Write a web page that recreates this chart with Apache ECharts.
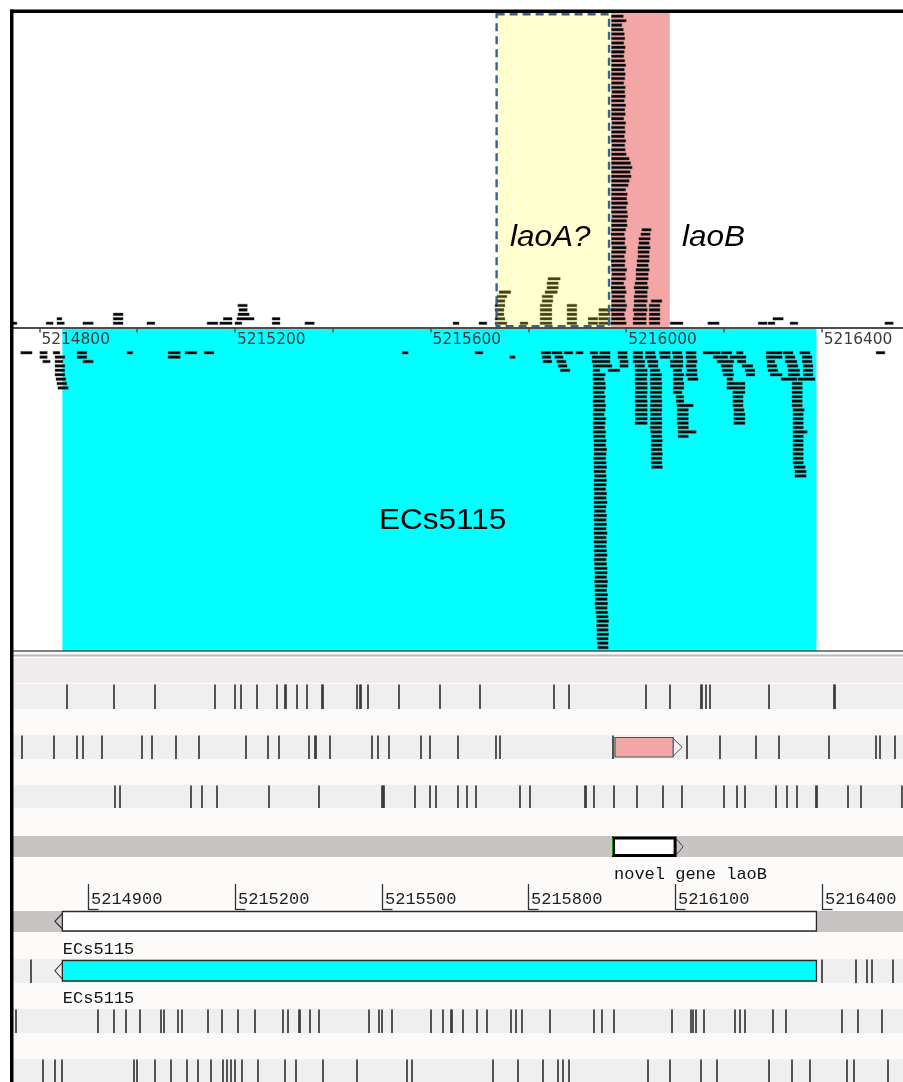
<!DOCTYPE html>
<html><head><meta charset="utf-8">
<script src="https://cdn.jsdelivr.net/npm/echarts@6/dist/echarts.min.js"></script>
<style>html,body{margin:0;padding:0;background:#fff;}#c{width:903px;height:1082px;}</style>
</head><body><div id="c"></div>
<script>
// ---------- DATA ----------
const xMin = 5214744, xMax = 5216566;
const topTickValues = [5214800, 5215000, 5215200, 5215400, 5215600, 5215800, 5216000, 5216200, 5216400];
const topTickLabels = [5214800, 5215200, 5215600, 5216000, 5216400];
const rulerTicks = [5214900, 5215200, 5215500, 5215800, 5216100, 5216400];
const geneECs5115 = [5214847, 5216389];
const regionLaoA = [5215736, 5215969];
const regionLaoB = [5215969, 5216089];
const geneLaoB = [5215974, 5216100];
const geneLaoBTrack = [5215977, 5216096];
const geneLabels = [[5214847, 'ECs5115', 't5'], [5214847, 'ECs5115', 't6'], [5215974, 'novel gene laoB', 't4']];

// plus-strand reads [start, end, row]
const plusReads = [
 [5214728,5214754,1],[5214814,5214828,1],[5214836,5214851,1],[5214836,5214846,2],
 [5214889,5214910,1],[5214951,5214971,1],[5214951,5214971,2],[5214951,5214971,3],
 [5215020,5215036,1],[5215143,5215165,1],[5215169,5215194,1],[5215176,5215194,2],
 [5215200,5215214,1],[5215204,5215239,2],[5215206,5215229,3],[5215208,5215225,4],[5215206,5215225,5],
 [5215276,5215292,1],[5215276,5215292,2],[5215343,5215362,1],[5215646,5215658,1],[5215699,5215715,1],
 // laoA? region
 [5215732,5215756,1],[5215732,5215752,2],[5215734,5215750,3],[5215732,5215750,4],[5215732,5215752,5],[5215734,5215752,6],[5215736,5215756,7],[5215740,5215764,8],
 [5215783,5215799,1],
 [5215824,5215848,1],[5215824,5215848,2],[5215824,5215848,3],[5215824,5215848,4],[5215824,5215848,5],[5215828,5215850,6],[5215828,5215850,7],[5215834,5215859,8],[5215838,5215861,9],[5215838,5215861,10],[5215840,5215865,11],
 [5215879,5215899,1],[5215879,5215899,2],[5215879,5215899,3],[5215879,5215899,4],[5215879,5215899,5],
 [5215922,5215942,1],[5215922,5215942,2],
 [5215944,5215967,1],[5215944,5215967,2],[5215944,5215967,3],[5215944,5215967,4],
 // laoB tall stack
 [5215968,5216000,1],[5215970,5215998,2],[5215970,5215996,3],[5215968,5215999,4],[5215970,5216001,5],[5215970,5215998,6],[5215971,5215997,7],[5215970,5216000,8],[5215969,5215998,9],[5215970,5215995,10],
 [5215970,5215999,11],[5215971,5215998,12],[5215970,5216001,13],[5215970,5215997,14],[5215969,5215998,15],[5215970,5215996,16],[5215970,5215999,17],[5215971,5216000,18],[5215970,5215997,19],[5215970,5215998,20],
 [5215969,5215996,21],[5215970,5215999,22],[5215970,5216002,23],[5215970,5216001,24],[5215971,5216003,25],[5215970,5216002,26],[5215970,5216000,27],[5215970,5216003,28],[5215970,5216001,29],[5215970,5216002,30],
 [5215970,5215999,31],[5215970,5216004,32],[5215970,5216006,33],[5215970,5216010,34],[5215970,5216008,35],[5215970,5216012,36],[5215970,5216009,37],[5215970,5216006,38],[5215970,5216000,39],[5215970,5215998,40],
 [5215971,5215997,41],[5215970,5215999,42],[5215970,5215996,43],[5215970,5215998,44],[5215970,5215997,45],[5215971,5215999,46],[5215970,5215995,47],[5215970,5215998,48],[5215970,5215997,49],[5215970,5215999,50],
 [5215970,5215996,51],[5215970,5215998,52],[5215971,5215997,53],[5215970,5215998,54],[5215970,5215995,55],[5215970,5215997,56],[5215970,5215998,57],[5215970,5215996,58],[5215970,5215999,59],[5215970,5215997,60],
 [5215970,5215995,61],[5215970,5215996,62],[5215970,5215998,63],[5215970,5215995,64],[5215970,5215997,65],[5215970,5215996,66],[5215970,5215994,67],[5215970,5215991,68],[5215970,5216000,69],[5215970,5215994,70],
 [5216014,5216041,1],[5216014,5216041,2],[5216016,5216041,3],[5216014,5216043,4],[5216016,5216041,5],[5216016,5216043,6],[5216016,5216043,7],[5216018,5216043,8],[5216016,5216045,9],[5216018,5216043,10],
 [5216020,5216045,11],[5216020,5216045,12],[5216020,5216047,13],[5216022,5216045,14],[5216022,5216047,15],[5216024,5216047,16],[5216024,5216047,17],[5216024,5216049,18],[5216026,5216047,19],[5216026,5216049,20],
 [5216030,5216049,21],[5216032,5216051,22],
 [5216047,5216069,1],[5216047,5216069,2],[5216047,5216069,3],[5216047,5216069,4],[5216047,5216069,5],[5216051,5216073,6],
 [5216090,5216116,1],[5216167,5216190,1],[5216270,5216288,1],[5216290,5216304,1],[5216300,5216321,2],[5216335,5216351,1],[5216529,5216546,1]
];

// minus-strand reads [start, end, row]
const minusReads = [
 [5214762,5214785,1],[5214801,5214816,1],[5214828,5214842,1],[5214877,5214897,1],[5214979,5214991,1],[5215063,5215088,1],[5215098,5215122,1],[5215137,5215157,1],[5215542,5215554,1],
 [5214801,5214816,2],[5214832,5214852,2],[5214877,5214897,2],[5215063,5215088,2],
 [5214807,5214822,3],[5214832,5214848,3],[5214889,5214910,3],
 [5214832,5214852,4],[5214832,5214852,5],[5214832,5214852,6],[5214834,5214854,7],[5214836,5214856,8],[5214838,5214859,9],
 [5215691,5215707,1],[5215762,5215773,2],
 [5215826,5215846,1],[5215848,5215869,1],[5215873,5215891,1],[5215897,5215912,1],
 [5215828,5215846,2],[5215854,5215871,2],[5215830,5215848,3],[5215858,5215877,3],[5215861,5215879,4],[5215865,5215885,5],
 // tall stack
 [5215926,5215942,1],[5215946,5215967,1],[5215930,5215967,2],[5215930,5215967,3],[5215932,5215971,4],[5215932,5215946,5],[5215963,5215987,5],
 [5215932,5215957,6],[5215932,5215955,7],[5215933,5215957,8],[5215932,5215958,9],[5215932,5215955,10],[5215933,5215957,11],[5215932,5215956,12],[5215932,5215958,13],[5215933,5215957,14],[5215932,5215955,15],
 [5215933,5215958,16],[5215932,5215957,17],[5215933,5215956,18],[5215932,5215958,19],[5215933,5215957,20],[5215934,5215959,21],[5215934,5215958,22],[5215934,5215960,23],[5215934,5215959,24],[5215933,5215958,25],
 [5215934,5215959,26],[5215934,5215960,27],[5215934,5215958,28],[5215935,5215959,29],[5215934,5215960,30],[5215934,5215959,31],[5215934,5215958,32],[5215935,5215960,33],[5215934,5215959,34],[5215934,5215961,35],
 [5215934,5215959,36],[5215935,5215958,37],[5215934,5215960,38],[5215934,5215959,39],[5215935,5215960,40],[5215934,5215959,41],[5215934,5215961,42],[5215935,5215959,43],[5215934,5215960,44],[5215935,5215959,45],
 [5215934,5215960,46],[5215935,5215961,47],[5215934,5215959,48],[5215935,5215960,49],[5215935,5215961,50],[5215936,5215961,51],[5215936,5215960,52],[5215935,5215962,53],[5215936,5215961,54],[5215936,5215960,55],
 [5215936,5215962,56],[5215937,5215961,57],[5215936,5215962,58],[5215937,5215961,59],[5215938,5215962,60],[5215939,5215963,61],[5215940,5215964,62],[5215939,5215963,63],[5215940,5215963,64],[5215940,5215964,65],
 [5215940,5215963,66],[5215941,5215963,67],[5215942,5215963,68],
 [5215983,5216002,1],[5215983,5216002,2],[5215987,5216004,3],[5215987,5216004,4],
 [5216014,5216034,1],[5216014,5216034,2],[5216014,5216038,3],[5216018,5216038,4],[5216018,5216043,5],[5216018,5216043,6],[5216018,5216042,7],[5216018,5216043,8],[5216019,5216043,9],
 [5216018,5216043,10],[5216018,5216042,11],[5216018,5216043,12],[5216019,5216043,13],[5216018,5216043,14],[5216018,5216043,15],[5216019,5216043,16],[5216018,5216043,17],
 [5216039,5216059,1],[5216039,5216061,2],[5216043,5216065,3],[5216045,5216065,4],[5216049,5216069,5],[5216049,5216073,6],[5216049,5216072,7],[5216049,5216073,8],[5216050,5216073,9],
 [5216049,5216073,10],[5216049,5216072,11],[5216050,5216073,12],[5216049,5216073,13],[5216049,5216073,14],[5216050,5216072,15],[5216049,5216073,16],[5216050,5216073,17],[5216049,5216073,18],
 [5216050,5216073,19],[5216051,5216073,20],[5216051,5216074,21],[5216051,5216073,22],[5216051,5216073,23],[5216051,5216074,24],[5216051,5216073,25],[5216051,5216073,26],[5216052,5216074,27],
 [5216067,5216090,1],[5216069,5216090,2],
 [5216094,5216114,1],[5216096,5216116,2],[5216090,5216116,3],[5216090,5216116,4],[5216096,5216114,5],[5216096,5216118,6],[5216096,5216116,7],[5216096,5216118,8],[5216096,5216118,9],[5216096,5216114,10],
 [5216102,5216118,11],[5216102,5216118,12],[5216104,5216137,13],[5216104,5216127,14],[5216104,5216127,15],[5216104,5216127,16],[5216104,5216127,17],[5216106,5216127,18],[5216106,5216143,19],[5216106,5216127,20],
 [5216122,5216143,1],[5216122,5216143,2],[5216124,5216145,3],[5216122,5216143,4],[5216124,5216145,5],[5216122,5216145,6],[5216126,5216147,7],
 [5216157,5216192,1],[5216194,5216216,1],[5216225,5216239,1],[5216178,5216208,2],[5216212,5216245,2],[5216186,5216220,3],[5216227,5216245,3],
 [5216194,5216218,4],[5216237,5216259,4],[5216196,5216218,5],[5216243,5216263,5],[5216198,5216220,6],[5216245,5216263,6],[5216206,5216218,7],
 [5216206,5216243,8],[5216206,5216243,9],[5216218,5216243,10],[5216218,5216239,11],[5216218,5216239,12],[5216218,5216239,13],[5216220,5216241,14],[5216220,5216243,15],[5216220,5216243,16],[5216220,5216243,17],
 [5216286,5216319,1],[5216321,5216341,1],[5216355,5216376,1],[5216286,5216319,2],[5216325,5216345,2],[5216360,5216380,2],
 [5216288,5216304,3],[5216325,5216349,3],[5216360,5216380,3],[5216288,5216308,4],[5216329,5216351,4],[5216362,5216382,4],
 [5216290,5216310,5],[5216331,5216355,5],[5216362,5216382,5],[5216294,5216319,6],[5216331,5216355,6],[5216362,5216382,6],
 [5216317,5216349,7],[5216351,5216386,7],
 [5216339,5216360,8],[5216339,5216360,9],[5216339,5216360,10],[5216339,5216360,11],[5216339,5216360,12],[5216339,5216360,13],[5216341,5216364,14],
 [5216341,5216362,15],[5216341,5216362,16],[5216341,5216362,17],[5216341,5216362,18],[5216341,5216370,19],[5216341,5216362,20],[5216341,5216362,21],
 [5216341,5216362,22],[5216341,5216362,23],[5216341,5216362,24],[5216341,5216362,25],[5216341,5216362,26],[5216343,5216366,27],[5216345,5216368,28],[5216345,5216368,29],
 [5216511,5216529,1]
];

// feature marks on the lower tracks (positions)
const track1Ticks = [5214857,5214953,5215036,5215159,5215199,5215212,5215246,5215285,5215303,5215305,5215327,5215348,5215378,5215380,5215449,5215456,5215458,5215471,5215535,5215619,5215701,5215853,5215883,5216040,5216090,5216153,5216155,5216163,5216171,5216292,5216424,5216426];
const track2Ticks = [5214764,5214830,5214876,5214889,5214929,5215009,5215030,5215079,5215127,5215223,5215267,5215289,5215351,5215364,5215366,5215394,5215481,5215493,5215514,5215580,5215599,5215655,5215733,5215742,5215972,5216124,5216192,5216265,5216313,5216415,5216510,5216519,5216550];
const track3Ticks = [5214955,5214965,5215110,5215132,5215163,5215270,5215372,5215501,5215503,5215505,5215568,5215599,5215611,5215657,5215674,5215693,5215783,5215803,5215915,5215917,5215934,5215976,5216022,5216075,5216115,5216199,5216227,5216243,5216306,5216328,5216349,5216389,5216391,5216453,5216480,5216563];
const track6Ticks = [5214782,5216400,5216469,5216493,5216502,5216546];
const track7Ticks = [5214752,5214919,5214953,5214977,5215006,5215049,5215055,5215083,5215092,5215144,5215174,5215207,5215241,5215298,5215308,5215330,5215332,5215353,5215372,5215474,5215495,5215501,5215521,5215601,5215626,5215642,5215644,5215667,5215694,5215715,5215764,5215775,5215786,5215844,5215934,5215950,5215976,5216093,5216132,5216137,5216142,5216159,5216223,5216233,5216243,5216300,5216327,5216441,5216475,5216523];
const track8Ticks = [5214808,5214831,5214846,5214994,5215000,5215036,5215069,5215101,5215125,5215150,5215176,5215183,5215191,5215200,5215214,5215248,5215302,5215324,5215379,5215449,5215552,5215561,5215727,5215779,5215829,5215861,5215871,5215884,5216045,5216090,5216153,5216186,5216292,5216340,5216376,5216452,5216466,5216535];

// ---------- LAYOUT ----------
const L = { left: 12, width: 891 };
const T = { band0:[658,683], t1:[684,709], t2:[735,759], t3:[785,808], t4:[836,857], t5:[911,932], t6:[959,983], t7:[1009,1033], t8:[1059,1082] };
const MONO = '17px "Liberation Mono", monospace';
const BIG = '30px "Liberation Sans", Arial, sans-serif';

function readItem(p, api) {
  const a = api.coord([api.value(0), api.value(2)]);
  const b = api.coord([api.value(1), api.value(2)]);
  return { type: 'rect', shape: { x: a[0], y: a[1] - 1.3, width: b[0] - a[0], height: 2.6 },
           style: { fill: '#030303', stroke: 'rgba(70,70,70,0.55)', lineWidth: 0.8 } };
}
function fullRegion(fill, inset) {
  return function (p, api) {
    const cs = p.coordSys;
    const x1 = api.coord([api.value(0), 1])[0], x2 = api.coord([api.value(1), 1])[0];
    return { type: 'rect', shape: { x: x1, y: cs.y + inset, width: x2 - x1, height: cs.height - inset }, style: { fill: fill } };
  };
}
function xOf(api, v) { return api.coord([v, 0.5])[0]; }
function tickTrack(ticks, band) {
  return { type: 'custom', xAxisIndex: 2, yAxisIndex: 2, z: 3, silent: true,
    data: ticks.map(v => [v, 0.5]),
    renderItem: (p, api) => {
      const x = Math.round(xOf(api, api.value(0)));
      return { type: 'line', shape: { x1: x, y1: band[0] + 0.5, x2: x, y2: band[1] }, style: { stroke: '#383838', lineWidth: 1.7 } };
    } };
}

const series = [
  { type: 'custom', xAxisIndex: 0, yAxisIndex: 0, z: 1, silent: true, data: [regionLaoB], renderItem: fullRegion('#f4a6a6', 1) },
  { type: 'custom', xAxisIndex: 1, yAxisIndex: 1, z: 1, silent: true, data: [geneECs5115], renderItem: fullRegion('#00ffff', 0) },
  { type: 'custom', xAxisIndex: 0, yAxisIndex: 0, z: 3, silent: true, clip: true, dimensions: ['start','end','row'], encode: { x: [0, 1], y: 2 }, data: plusReads, renderItem: readItem },
  { type: 'custom', xAxisIndex: 1, yAxisIndex: 1, z: 3, silent: true, clip: true, dimensions: ['start','end','row'], encode: { x: [0, 1], y: 2 }, data: minusReads, renderItem: readItem },
  { type: 'custom', xAxisIndex: 0, yAxisIndex: 0, z: 4, silent: true, data: [regionLaoA],
    renderItem: (p, api) => {
      const cs = p.coordSys;
      const x1 = api.coord([api.value(0), 1])[0], x2 = api.coord([api.value(1), 1])[0];
      return { type: 'group', children: [
        { type: 'rect', shape: { x: x1, y: cs.y + 1, width: x2 - x1, height: cs.height - 1 }, style: { fill: 'rgba(255,255,60,0.24)' } },
        { type: 'rect', shape: { x: x1 - 0.5, y: cs.y + 2.2, width: x2 - x1 - 1.5, height: cs.height - 3.4 }, style: { fill: 'none', stroke: '#3b6190', lineWidth: 2.4, lineDash: [8, 5] } }
      ] };
    } },
  tickTrack(track1Ticks, T.t1), tickTrack(track2Ticks, T.t2), tickTrack(track3Ticks, T.t3),
  tickTrack(track6Ticks, T.t6), tickTrack(track7Ticks, T.t7), tickTrack(track8Ticks, T.t8),
  // pink laoB box on track 2
  { type: 'custom', xAxisIndex: 2, yAxisIndex: 2, z: 4, silent: true, data: [[geneLaoBTrack[0], geneLaoBTrack[1]]],
    renderItem: (p, api) => {
      const x1 = xOf(api, api.value(0)), x2 = xOf(api, api.value(1)); const y0 = T.t2[0] + 2.5, y1 = T.t2[1] - 2;
      return { type: 'group', children: [
        { type: 'rect', shape: { x: x1, y: y0, width: x2 - x1, height: y1 - y0 }, style: { fill: '#f4a6a6', stroke: '#2f5f60', lineWidth: 1.2 } },
        { type: 'polyline', shape: { points: [[x2, y0 + 1], [x2 + 9, (y0 + y1) / 2], [x2, y1 - 1]] }, style: { fill: 'none', stroke: '#555', lineWidth: 1 } }
      ] };
    } },
  // novel gene laoB box on track 4
  { type: 'custom', xAxisIndex: 2, yAxisIndex: 2, z: 4, silent: true, data: [[geneLaoB[0], geneLaoB[1]]],
    renderItem: (p, api) => {
      const x1 = xOf(api, api.value(0)), x2 = xOf(api, api.value(1)); const y0 = T.t4[0] + 2, y1 = T.t4[1] - 1.5;
      return { type: 'group', children: [
        { type: 'rect', shape: { x: x1, y: y0, width: x2 - x1, height: y1 - y0 }, style: { fill: '#fff', stroke: '#000', lineWidth: 3 } },
        { type: 'line', shape: { x1: x1 - 1, y1: y0, x2: x1 - 1, y2: y1 }, style: { stroke: '#1b9a1b', lineWidth: 1 } },
        { type: 'polyline', shape: { points: [[x2 + 1.5, y0 + 1], [x2 + 8, (y0 + y1) / 2], [x2 + 1.5, y1 - 1]] }, style: { fill: 'none', stroke: '#444', lineWidth: 1 } }
      ] };
    } },
  // ECs5115 boxes on track 5 (white) and track 6 (cyan)
  { type: 'custom', xAxisIndex: 2, yAxisIndex: 2, z: 4, silent: true, data: [[geneECs5115[0], geneECs5115[1]]],
    renderItem: (p, api) => {
      const x1 = xOf(api, api.value(0)), x2 = xOf(api, api.value(1));
      const box = (band, fill) => {
        const y0 = band[0] + 0.5, y1 = band[1] - 1;
        return [
          { type: 'rect', shape: { x: x1, y: y0, width: x2 - x1, height: y1 - y0 }, style: { fill: fill, stroke: '#2a2a2a', lineWidth: 1.3 } },
          { type: 'polyline', shape: { points: [[x1, y0 + 2], [x1 - 7.5, (y0 + y1) / 2], [x1, y1 - 2]] }, style: { fill: 'none', stroke: '#333', lineWidth: 1.1 } }
        ];
      };
      return { type: 'group', children: box(T.t5, '#ffffff').concat(box([T.t6[0] + 1, T.t6[1] - 1], '#00ffff')) };
    } },
  // lower ruler
  { type: 'custom', xAxisIndex: 2, yAxisIndex: 2, z: 5, silent: true, data: rulerTicks.map(v => [v, 0.5]),
    renderItem: (p, api) => {
      const x = Math.round(xOf(api, api.value(0))) + 0.5;
      return { type: 'group', children: [
        { type: 'line', shape: { x1: x, y1: 884, x2: x, y2: 910 }, style: { stroke: '#333', lineWidth: 1.3 } },
        { type: 'line', shape: { x1: x, y1: 909.5, x2: x + 10, y2: 909.5 }, style: { stroke: '#333', lineWidth: 1.3 } },
        { type: 'text', x: x + 2.5, y: 899, style: { text: String(api.value(0)), font: MONO, fill: '#1e1e1e', textAlign: 'left', textVerticalAlign: 'middle' } }
      ] };
    } },
  // gene labels
  { type: 'custom', xAxisIndex: 2, yAxisIndex: 2, z: 5, silent: true, dimensions: ['pos', 'name', 'track'], encode: { x: 0 },
    data: geneLabels,
    renderItem: (p, api) => {
      const item = geneLabels[p.dataIndex];
      const yMap = { t4: T.t4[1] + 17, t5: T.t5[1] + 17, t6: T.t6[1] + 15 };
      return { type: 'text', x: xOf(api, item[0]) + 0.5, y: yMap[item[2]], style: { text: item[1], font: MONO, fill: '#111', textAlign: 'left', textVerticalAlign: 'middle' } };
    } }
];

const hiddenX = (g) => ({ gridIndex: g, type: 'value', min: xMin, max: xMax, show: false });
const option = {
  animation: false,
  backgroundColor: '#ffffff',
  grid: [
    { left: L.left, top: 12, width: L.width, height: 315.5, containLabel: false, outerBoundsMode: 'none' },
    { left: L.left, top: 329, width: L.width, height: 322, containLabel: false, outerBoundsMode: 'none' },
    { left: L.left, top: 655, width: L.width, height: 427, containLabel: false, outerBoundsMode: 'none' }
  ],
  xAxis: [
    { gridIndex: 0, type: 'value', min: xMin, max: xMax, position: 'bottom', z: 10,
      axisLine: { show: true, onZero: false, lineStyle: { color: '#4d4d4d', width: 2 } },
      axisTick: { show: true, length: 5, customValues: topTickValues, lineStyle: { color: '#4d4d4d', width: 1.5 } },
      axisLabel: { show: true, customValues: topTickLabels, align: 'left', margin: 5, padding: [0, 0, 0, 2], fontSize: 15.4, fontFamily: '"DejaVu Sans"', color: '#3b3b3b', formatter: v => String(v) },
      splitLine: { show: false } },
    hiddenX(1), hiddenX(2)
  ],
  yAxis: [
    { gridIndex: 0, type: 'value', min: 0.05, max: 70.95, show: false },
    { gridIndex: 1, type: 'value', min: -4.39, max: 68.79, inverse: true, show: false },
    { gridIndex: 2, type: 'value', min: 0, max: 1, show: false }
  ],
  graphic: [
    { type: 'rect', z: 0, silent: true, shape: { x: 12, y: 652, width: 891, height: 430 }, style: { fill: '#fcfbfa' } },
    { type: 'rect', z: 0, silent: true, shape: { x: 12, y: T.band0[0], width: 891, height: T.band0[1] - T.band0[0] }, style: { fill: '#f0ecec' } },
    { type: 'rect', z: 0, silent: true, shape: { x: 12, y: T.t1[0], width: 891, height: T.t1[1] - T.t1[0] }, style: { fill: '#efefef' } },
    { type: 'rect', z: 0, silent: true, shape: { x: 12, y: T.t2[0], width: 891, height: T.t2[1] - T.t2[0] }, style: { fill: '#efefef' } },
    { type: 'rect', z: 0, silent: true, shape: { x: 12, y: T.t3[0], width: 891, height: T.t3[1] - T.t3[0] }, style: { fill: '#efefef' } },
    { type: 'rect', z: 0, silent: true, shape: { x: 12, y: T.t4[0], width: 891, height: T.t4[1] - T.t4[0] }, style: { fill: '#c9c4c4' } },
    { type: 'rect', z: 0, silent: true, shape: { x: 12, y: T.t5[0], width: 891, height: T.t5[1] - T.t5[0] }, style: { fill: '#c9c4c4' } },
    { type: 'rect', z: 0, silent: true, shape: { x: 12, y: T.t6[0], width: 891, height: T.t6[1] - T.t6[0] }, style: { fill: '#efefef' } },
    { type: 'rect', z: 0, silent: true, shape: { x: 12, y: T.t7[0], width: 891, height: T.t7[1] - T.t7[0] }, style: { fill: '#efefef' } },
    { type: 'rect', z: 0, silent: true, shape: { x: 12, y: T.t8[0], width: 891, height: T.t8[1] - T.t8[0] }, style: { fill: '#efefef' } },
    { type: 'rect', z: 50, silent: true, shape: { x: 12, y: 650, width: 891, height: 2 }, style: { fill: 'rgba(55,60,60,0.65)' } },
    { type: 'rect', z: 50, silent: true, shape: { x: 12, y: 654.5, width: 891, height: 2 }, style: { fill: '#b2bac2' } },
    { type: 'text', z: 50, silent: true, x: 510, y: 238, scaleX: 1.05, style: { text: 'laoA?', font: 'italic ' + BIG, fill: '#000', textAlign: 'left', textVerticalAlign: 'middle' } },
    { type: 'text', z: 50, silent: true, x: 682, y: 238, scaleX: 1.05, style: { text: 'laoB', font: 'italic ' + BIG, fill: '#000', textAlign: 'left', textVerticalAlign: 'middle' } },
    { type: 'text', z: 50, silent: true, x: 379, y: 521, scaleX: 1.05, style: { text: 'ECs5115', font: BIG, fill: '#000', textAlign: 'left', textVerticalAlign: 'middle' } },
    { type: 'rect', z: 60, silent: true, shape: { x: 10, y: 9.5, width: 893, height: 3.5 }, style: { fill: '#000' } },
    { type: 'rect', z: 60, silent: true, shape: { x: 10, y: 9.5, width: 3.5, height: 1073 }, style: { fill: '#000' } }
  ],
  series: series
};
const chart = echarts.init(document.getElementById('c'), null, { renderer: 'canvas', width: 903, height: 1082 });
chart.setOption(option);
</script>
</body></html>
